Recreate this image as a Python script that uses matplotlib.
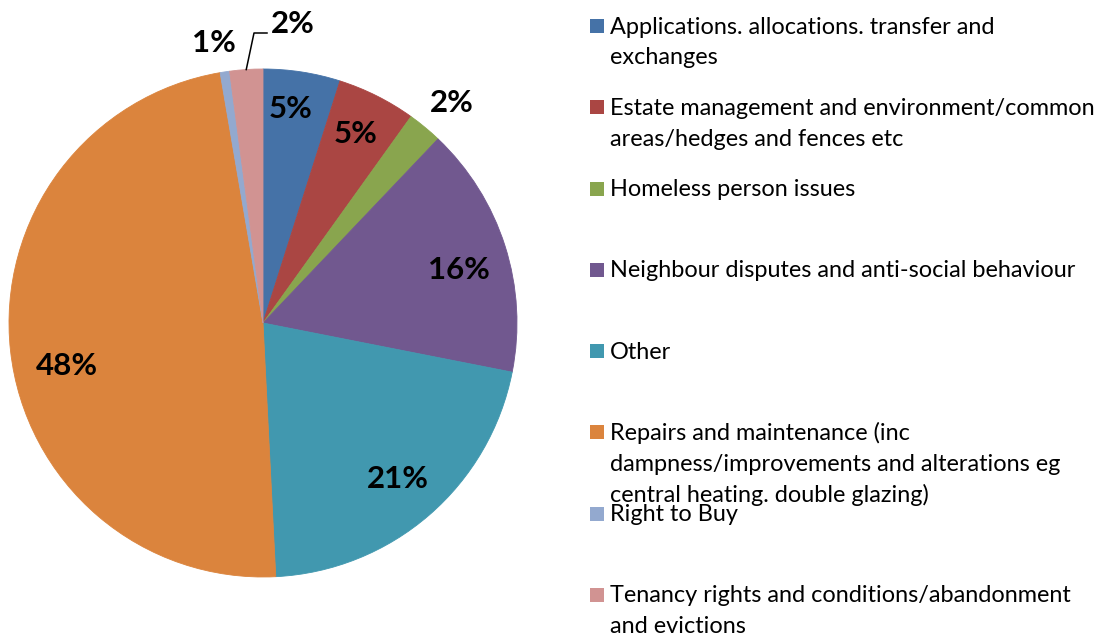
import numpy as np
import matplotlib
matplotlib.use("Agg")
import matplotlib.pyplot as plt
from matplotlib.patches import Rectangle

# ---- data ----
categories = [
    "Applications. allocations. transfer and\nexchanges",
    "Estate management and environment/common\nareas/hedges and fences etc",
    "Homeless person issues",
    "Neighbour disputes and anti-social behaviour",
    "Other",
    "Repairs and maintenance (inc\ndampness/improvements and alterations eg\ncentral heating. double glazing)",
    "Right to Buy",
    "Tenancy rights and conditions/abandonment\nand evictions",
]
values = [4.9, 5.0, 2.2, 16.0, 21.1, 48.1, 0.6, 2.1]
colors = ["#4572A7", "#AA4643", "#89A54E", "#71588F", "#4198AF", "#DB843D", "#93A9CF", "#D19392"]

# ---- label style (radius, angular offset in degrees ccw) ----
label_r = [0.85, 0.83, 1.14, 0.80, 0.81, 0.79, 1.12, 1.18]
label_dth = [1.4, 0.5, -1.1, -2.5, 0.0, 6.0, 1.2, 0.0]

W, H = 1117, 639
fig = plt.figure(figsize=(W / 100, H / 100), dpi=100)
fig.patch.set_facecolor("white")

cx, cy, R = 263, 323, 254
ax = fig.add_axes([(cx - R) / W, (H - cy - R) / H, 2 * R / W, 2 * R / H])
wedges, _ = ax.pie(values, colors=colors, startangle=90, counterclock=False,
                   radius=1.0, wedgeprops=dict(linewidth=0.6, antialiased=True))
for w, c in zip(wedges, colors):
    w.set_edgecolor(c)
ax.set_xlim(-1, 1)
ax.set_ylim(-1, 1)
ax.set_aspect("equal")
ax.axis("off")

renderer = fig.canvas.get_renderer()

def fit_size(txt, family, weight, target_px, base=20):
    t = fig.text(0, 0, txt, fontsize=base, family=family, weight=weight)
    w = t.get_window_extent(renderer).width
    t.remove()
    return base * target_px / w

pct_font = ["Lato", "DejaVu Sans"]
pct_size = fit_size("48%", pct_font, "bold", 62)

total = sum(values)
for i, (w, v) in enumerate(zip(wedges, values)):
    mid = 0.5 * (w.theta1 + w.theta2)
    lab = f"{round(v / total * 100):.0f}%"
    if i == 7:
        # leader line label
        th = np.deg2rad(mid)
        x0, y0 = np.cos(th), np.sin(th)
        ex, ey = (254 - cx) / R, (cy - 33) / R
        hx = (267 - cx) / R
        ax.plot([x0, ex, hx], [y0, ey, ey], color="black", lw=1.1, clip_on=False)
        ax.text((293 - cx) / R, (cy - 24) / R, lab, ha="center", va="center",
                fontsize=pct_size, family=pct_font, weight="bold", clip_on=False)
        continue
    th = np.deg2rad(mid + label_dth[i])
    r = label_r[i]
    ax.text(r * np.cos(th), r * np.sin(th), lab, ha="center", va="center",
            fontsize=pct_size, family=pct_font, weight="bold", clip_on=False)

# ---- legend (manual, Excel-like even spacing) ----
leg_font = ["Lato", "DejaVu Sans"]
leg_size = fit_size("Neighbour disputes and anti-social behaviour", leg_font, "normal", 467)
first_y = 26.0
step = (595.0 - 26.0) / 7
line_h = 30.8
for i, (lab, c) in enumerate(zip(categories, colors)):
    yc = first_y + i * step
    fig.patches.append(Rectangle((590 / W, 1 - (yc + 7) / H), 14 / W, 14 / H,
                                 transform=fig.transFigure, facecolor=c,
                                 edgecolor="none"))
    for k, line in enumerate(lab.split("\n")):
        yb = yc + 7.5 + k * line_h
        fig.text(610 / W, 1 - yb / H, line, fontsize=leg_size, family=leg_font,
                 va="baseline", ha="left", color="#000000")

fig.savefig("out.png", dpi=100, facecolor="white")
